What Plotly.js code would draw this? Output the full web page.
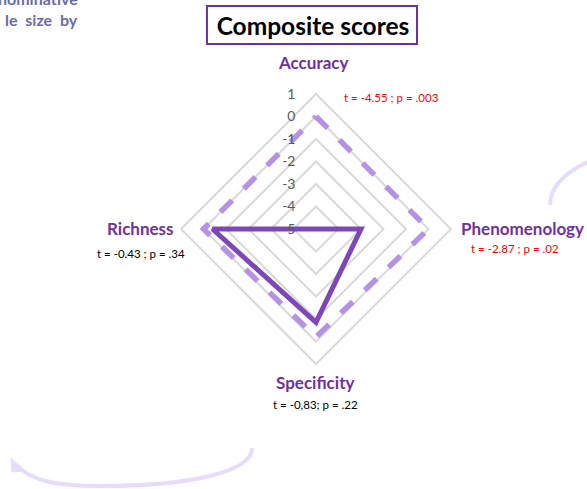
<!DOCTYPE html>
<html>
<head>
<meta charset="utf-8">
<script src="https://cdn.plot.ly/plotly-3.0.1.min.js"></script>
<style>html,body{margin:0;padding:0;background:#fff;}#chart{width:587px;height:489px;}</style>
</head>
<body>
<div id="chart"></div>
<script>
// ---- data ----
const categories = ["Accuracy", "Phenomenology", "Specificity", "Richness"];
const referenceScores = [0, 0, -0.2, 0];          // dashed series
const compositeScores = [-5, -3, -0.85, -0.4];    // solid series
const statLabels = ["t = -4.55 ; p = .003", "t = -2.87 ; p = .02", "t = -0,83; p = .22", "t = -0.43 ; p = .34"];
const significant = [true, true, false, false];
const radialTicks = [1, 0, -1, -2, -3, -4, -5];
const chartTitle = "Composite scores";

// ---- helpers ----
const W = 587, H = 489;
const px = (x, y) => [(x / W).toFixed(4), (1 - y / H).toFixed(4)];
const P = (x, y) => px(x, y).join(",");
const close = a => a.concat([a[0]]);
const pad = "\u00a0".repeat(5);

const traces = [
  {
    type: "scatterpolar", mode: "lines",
    r: close(referenceScores), theta: close(categories),
    line: {color: "#b592e2", width: 5.5, dash: "dash"},
    hoverinfo: "skip", showlegend: false
  },
  {
    type: "scatterpolar", mode: "lines",
    r: close(compositeScores), theta: close(categories),
    line: {color: "#7d47b8", width: 5},
    hoverinfo: "skip", showlegend: false
  }
];

const purple = "#7030a0";
const font = "Lato, 'Open Sans', sans-serif";

// category label positions (pixels)
const catPos = [[313, 62], [522, 229], [315, 383], [141, 229]];
const statPos = [[392, 98], [515, 249], [316, 405], [141, 253]];

const annotations = [];
categories.forEach((c, i) => {
  const [x, y] = px(catPos[i][0], catPos[i][1]);
  annotations.push({text: "<b>" + c + "</b>", x: +x, y: +y, xref: "paper", yref: "paper",
    showarrow: false, xanchor: "center", yanchor: "middle",
    font: {family: font, size: 17, color: purple}});
  const [sx, sy] = px(statPos[i][0], statPos[i][1]);
  annotations.push({text: statLabels[i], x: +sx, y: +sy, xref: "paper", yref: "paper",
    showarrow: false, xanchor: "center", yanchor: "middle",
    font: {family: font, size: 11.5, color: significant[i] ? "#ff0000" : "#000000"}});
});
// slide background fragments
annotations.push({text: "<b>nominative</b>", x: 0.137, y: 1.003, xref: "paper", yref: "paper",
  showarrow: false, xanchor: "right", yanchor: "middle", font: {family: font, size: 16, color: "#6b6bab"}});
annotations.push({text: "<b>le  size  by</b>", x: 0.137, y: +px(0, 19)[1], xref: "paper", yref: "paper",
  showarrow: false, xanchor: "right", yanchor: "middle", font: {family: font, size: 16, color: "#6b6bab"}});

const lav = "#e8dcfb";
const shapes = [
  // title box
  {type: "rect", xref: "paper", yref: "paper",
   x0: +px(207, 0)[0], x1: +px(417, 0)[0], y0: +px(0, 44)[1], y1: +px(0, 6)[1],
   line: {color: purple, width: 2}, fillcolor: "rgba(0,0,0,0)"},
  // bottom curved arrow
  {type: "path", xref: "paper", yref: "paper",
   path: "M" + P(252, 448) + " C" + P(252, 472) + " " + P(190, 486) + " " + P(100, 486) +
         " C" + P(55, 486) + " " + P(30, 480) + " " + P(18, 466),
   line: {color: lav, width: 4}},
  {type: "path", xref: "paper", yref: "paper",
   path: "M" + P(11, 458) + " L" + P(12, 472) + " L" + P(25, 471) + " Z",
   line: {color: lav, width: 1}, fillcolor: lav},
  // right arc
  {type: "path", xref: "paper", yref: "paper",
   path: "M" + P(550, 205) + " C" + P(550, 186) + " " + P(565, 172) + " " + P(592, 160),
   line: {color: lav, width: 4}}
];

const layout = {
  width: W, height: H,
  margin: {l: 0, r: 0, t: 0, b: 0},
  paper_bgcolor: "#ffffff",
  showlegend: false,
  title: {text: "<b>" + chartTitle + "</b>", x: +px(313, 0)[0], xanchor: "center",
          y: +px(0, 26)[1], yanchor: "middle", xref: "paper", yref: "paper",
          font: {family: font, size: 24.5, color: "#000000"}},
  polar: {
    domain: {x: [181 / W, 451 / W], y: [1 - 364 / H, 1 - 94 / H]},
    bgcolor: "#ffffff",
    gridshape: "linear",
    angularaxis: {
      type: "category", direction: "clockwise", rotation: 90,
      showticklabels: false, ticks: "", showgrid: false,
      showline: true, linecolor: "#d9d9d9", linewidth: 2
    },
    radialaxis: {
      range: [-5, 1], tickvals: radialTicks, ticktext: radialTicks.map(v => String(v) + pad),
      angle: 90, tickangle: 90, side: "counterclockwise",
      showline: false, ticks: "", gridcolor: "#d9d9d9", gridwidth: 2,
      tickfont: {family: font, size: 14, color: "#595959"}
    }
  },
  annotations: annotations,
  shapes: shapes
};

Plotly.newPlot("chart", traces, layout, {staticPlot: true, displayModeBar: false});
</script>
</body>
</html>
